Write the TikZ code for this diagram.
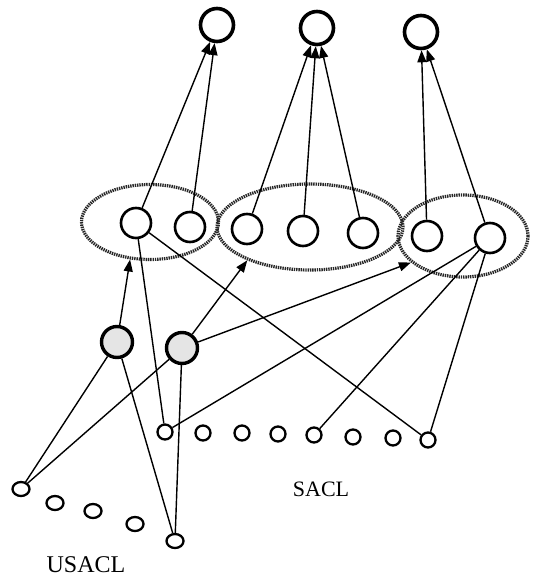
\documentclass[tikz,border=0pt]{standalone}
\usepackage{fontspec}
\setmainfont{Liberation Serif}
\usetikzlibrary{arrows.meta,shapes.geometric}
\begin{document}
\begin{tikzpicture}[x=1pt,y=-1pt,
  topnode/.style={circle,draw,line width=3.6pt,minimum size=33pt,inner sep=0pt},
  midnode/.style={circle,draw,line width=2.6pt,minimum size=30pt,inner sep=0pt},
  hidnode/.style={circle,draw,line width=3.4pt,minimum size=31pt,inner sep=0pt,fill=black!10},
  smallnode/.style={circle,draw,line width=2.3pt,minimum size=15pt,inner sep=0pt},
  unode/.style={ellipse,draw,line width=2.3pt,minimum width=17pt,minimum height=14pt,inner sep=0pt},
  group/.style={ellipse,draw=black!85,line width=3.2pt,dash pattern=on 1.4pt off 0.9pt,inner sep=0pt},
  conn/.style={line width=1.4pt},
  arr/.style={line width=1.4pt,-{Triangle[length=12pt,width=9pt]}},
  lbl/.style={inner sep=0pt}]
\useasboundingbox (0,0) rectangle (532,580);
% groups
\node[group,minimum width=137pt,minimum height=75pt] (E1) at (150,222) {};
\node[group,minimum width=186pt,minimum height=86pt] (E2) at (310,227) {};
\node[group,minimum width=130pt,minimum height=82pt] (E3) at (463,236) {};
% top layer
\node[topnode] (T1) at (217,25) {};
\node[topnode] (T2) at (317,28) {};
\node[topnode] (T3) at (421,32) {};
% middle layer
\node[midnode] (M1) at (136,223) {};
\node[midnode] (M2) at (190,227) {};
\node[midnode] (M3) at (247,229) {};
\node[midnode] (M4) at (303,231) {};
\node[midnode] (M5) at (363,233) {};
\node[midnode] (M6) at (427,236) {};
\node[midnode] (M7) at (490,238) {};
% hidden
\node[hidnode] (H1) at (117,342) {};
\node[hidnode] (H2) at (182,348) {};
% SACL
\node[smallnode] (S1) at (165,432) {};
\node[smallnode] (S2) at (203,433) {};
\node[smallnode] (S3) at (242,433) {};
\node[smallnode] (S4) at (278,434) {};
\node[smallnode] (S5) at (314,435) {};
\node[smallnode] (S6) at (353,437) {};
\node[smallnode] (S7) at (393,438) {};
\node[smallnode] (S8) at (428,440) {};
% USACL
\node[unode] (U1) at (21,489) {};
\node[unode] (U2) at (55,503) {};
\node[unode] (U3) at (93,511) {};
\node[unode] (U4) at (135,524) {};
\node[unode] (U5) at (175,541) {};
% labels
\node[lbl,font=\fontsize{22}{22}\selectfont] (L1) at (321,489) {SACL};
\node[lbl,font=\fontsize{24}{24}\selectfont] (L2) at (86,565) {USACL};
% arrows to top
\draw[arr] (M1) -- (T1);
\draw[arr] (M2) -- (T1);
\draw[arr] (M3) -- (T2);
\draw[arr] (M4) -- (T2);
\draw[arr] (M5) -- (T2);
\draw[arr] (M6) -- (T3);
\draw[arr] (M7) -- (T3);
% arrows to groups
\draw[arr] (H1) -- (E1.-118);
\draw[arr] (H2) -- (E2.-152);
\draw[arr] (H2) -- (E3.-153);
% plain connections
\draw[conn] (M1) -- (S1);
\draw[conn] (M1) -- (S8);
\draw[conn] (M7) -- (S1);
\draw[conn] (M7) -- (S5);
\draw[conn] (M7) -- (S8);
\draw[conn] (H1) -- (U1);
\draw[conn] (H1) -- (U5);
\draw[conn] (H2) -- (U1);
\draw[conn] (H2) -- (U5);
\end{tikzpicture}
\end{document}
